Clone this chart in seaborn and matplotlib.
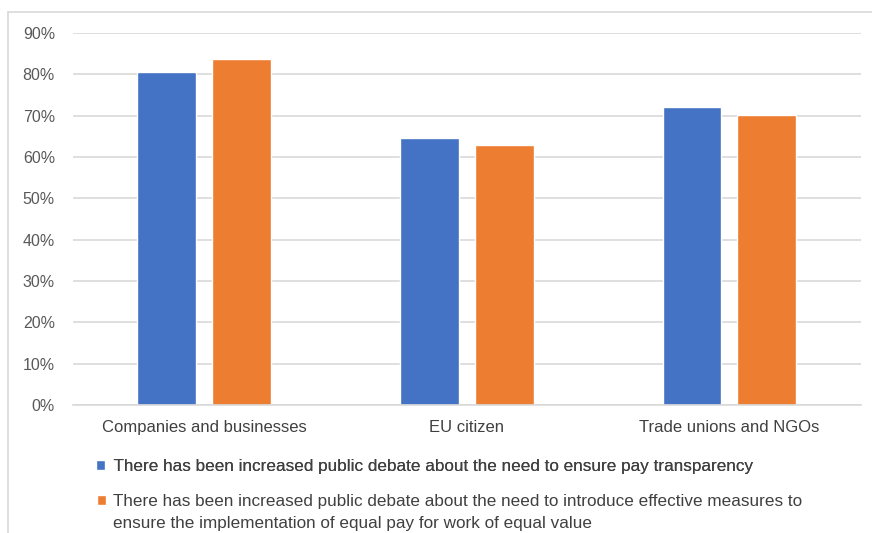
import pandas as pd
import matplotlib.pyplot as plt
import seaborn as sns
from matplotlib.lines import Line2D
from matplotlib.ticker import PercentFormatter

categories = ["Companies and businesses", "EU citizen", "Trade unions and NGOs"]
series_names = [
    "There has been increased public debate about the need to ensure pay transparency",
    "There has been increased public debate about the need to introduce effective measures to ensure the implementation of equal pay for work of equal value",
]
pay_transparency = [0.805, 0.646, 0.722]
effective_measures = [0.836, 0.629, 0.702]
y_ticks = [0, 0.1, 0.2, 0.3, 0.4, 0.5, 0.6, 0.7, 0.8, 0.9]
colors = ["#4472C4", "#ED7D31"]

df = pd.DataFrame({
    "group": categories * 2,
    "share": pay_transparency + effective_measures,
    "series": [series_names[0]] * 3 + [series_names[1]] * 3,
})

sns.set_style("white")
plt.rcParams["font.family"] = ["Liberation Sans", "DejaVu Sans"]

fig = plt.figure(figsize=(8.72, 5.33), dpi=100)
ax = fig.add_axes([0.0837, 0.2402, 0.9033, 0.6979])

sns.barplot(data=df, x="group", y="share", hue="series", palette=colors,
            width=0.57, gap=0.215, ax=ax, errorbar=None, saturation=1)

handles, labels = ax.get_legend_handles_labels()
ax.get_legend().remove()

ax.set_ylim(0, 0.9)
ax.set_xlim(-0.5, 2.5)
ax.set_yticks(y_ticks)
ax.yaxis.set_major_formatter(PercentFormatter(1.0, decimals=0))
ax.yaxis.grid(True, color="#D9D9D9", lw=1.2)
ax.set_axisbelow(True)
for s in ["top", "right", "left"]:
    ax.spines[s].set_visible(False)
ax.spines["bottom"].set_color("#D9D9D9")
ax.spines["bottom"].set_linewidth(1.2)
ax.tick_params(axis="y", length=0, pad=13, labelsize=11.5, labelcolor="#595959")
ax.tick_params(axis="x", length=0, pad=11, labelsize=12, labelcolor="#404040")
ax.set_xlabel("")
ax.set_ylabel("")

# legend: first entry, then second entry with a continuation line
leg1 = fig.legend([handles[0]], [" " + labels[0]], loc="upper left",
                  bbox_to_anchor=(0.102, 0.152), frameon=False, fontsize=12.3,
                  handlelength=0.55, handleheight=0.55, handletextpad=0.25,
                  labelcolor="#404040", borderaxespad=0)
fig.add_artist(leg1)
leg2 = fig.legend([handles[1], Line2D([], [], alpha=0)],
                  ["There has been increased public debate about the need to introduce effective measures to",
                   "ensure the implementation of equal pay for work of equal value"],
                  loc="upper left", bbox_to_anchor=(0.103, 0.086), frameon=False,
                  fontsize=12.3, handlelength=0.55, handleheight=0.55, handletextpad=0.4,
                  labelspacing=0.43, labelcolor="#404040", borderaxespad=0)

# outer frame of the chart
fig.add_artist(Line2D([0.009, 1.0], [0.9775, 0.9775], transform=fig.transFigure, color="#D9D9D9", lw=1.2))
fig.add_artist(Line2D([0.009, 0.009], [0.0, 0.9775], transform=fig.transFigure, color="#D9D9D9", lw=1.2))

fig.savefig("out.png", dpi=100)
